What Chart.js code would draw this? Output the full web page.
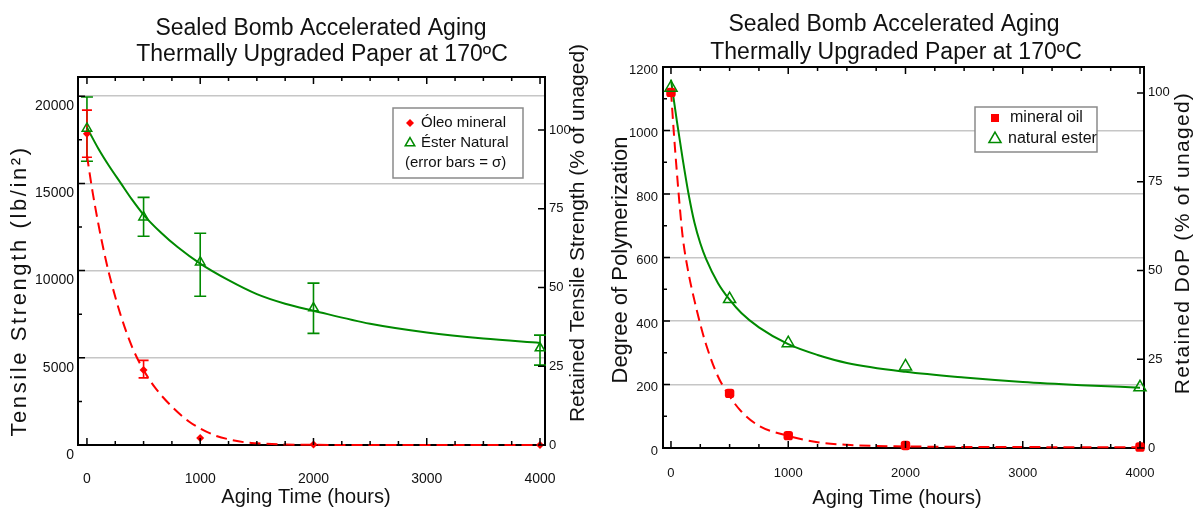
<!DOCTYPE html>
<html><head><meta charset="utf-8">
<script src="https://cdn.jsdelivr.net/npm/chart.js@4.4.1/dist/chart.umd.min.js"></script>
<style>
html,body{margin:0;padding:0;background:#fff;}
#wrap{position:relative;width:1194px;height:511px;overflow:hidden;background:#fff;}
canvas{position:absolute;top:0;}
#c1{left:0;} #c2{left:597px;}
</style></head><body>
<div id="wrap"><canvas id="c1" width="597" height="511"></canvas><canvas id="c2" width="597" height="511"></canvas></div>
<script>
// ================= DATA =================
const titleLine1 = 'Sealed Bomb Accelerated Aging';
const titleLine2 = 'Thermally Upgraded Paper at 170ºC';
const xAxisTitle = 'Aging Time (hours)';
const agingHours = [0, 500, 1000, 2000, 4000];
const hourTicks = [0, 1000, 2000, 3000, 4000];

// Left chart: tensile strength
const tensileTitle = 'Tensile Strength (lb/in²)';
const tensileRetainedTitle = 'Retained Tensile Strength (% of unaged)';
const tensileLegend = ['Óleo mineral', 'Éster Natural', '(error bars = σ)'];
const tensileMineral = [17850, 4300, 400, 30, 0];
const tensileEster = [18150, 13060, 10480, 7850, 5560];
const tensileMineralLow = [16500, 3850, null, null, null];
const tensileMineralHigh = [19200, 4850, null, null, null];
const tensileEsterLow = [16270, 11970, 8530, 6400, 4580];
const tensileEsterHigh = [19950, 14200, 12140, 9280, 6300];
const tensileMineralFitHours = [0, 50, 100, 150, 200, 300, 400, 500, 600, 750, 900, 1000, 1150, 1250, 1400, 1500, 1750, 2000, 2500, 3000, 4000];
const tensileMineralFit = [16600, 14500, 12700, 11100, 9700, 7400, 5600, 4300, 3300, 2200, 1350, 950, 500, 330, 150, 100, 30, 10, 0, 0, 0];
const tensileEsterFitHours = [0, 100, 200, 300, 400, 500, 650, 800, 1000, 1250, 1500, 1750, 2000, 2500, 3000, 3500, 4000];
const tensileEsterFit = [18200, 17000, 15950, 15000, 14050, 13200, 12200, 11350, 10400, 9450, 8650, 8100, 7700, 6950, 6450, 6100, 5850];
const tensileTicks = [0, 5000, 10000, 15000, 20000];
const retainedTensileTicks = [0, 25, 50, 75, 100];

// Right chart: degree of polymerization
const dopTitle = 'Degree of Polymerization';
const dopRetainedTitle = 'Retained DoP (% of unaged)';
const dopLegend = ['mineral oil', 'natural ester'];
const dopMineral = [1120, 172, 39, 8, 3];
const dopEster = [1135, 469, 330, 257, 191];
const dopMineralFitHours = [0, 25, 50, 75, 100, 150, 200, 250, 300, 400, 500, 600, 750, 1000, 1250, 1500, 2000, 3000, 4000];
const dopMineralFit = [1125, 990, 870, 760, 665, 550, 465, 390, 325, 226, 163, 115, 70, 38, 18, 10, 5, 3, 2];
const dopEsterFitHours = [0, 50, 100, 150, 200, 250, 300, 400, 500, 600, 750, 1000, 1250, 1500, 2000, 2500, 3000, 3500, 4000];
const dopEsterFit = [1160, 1030, 910, 800, 710, 645, 595, 520, 467, 425, 380, 327, 293, 268, 240, 222, 208, 198, 190];
const dopTicks = [0, 200, 400, 600, 800, 1000, 1200];
const retainedDopTicks = [0, 25, 50, 75, 100];

// ================= STYLE / HELPERS =================
const FONT = '"Liberation Sans", Arial, Helvetica, sans-serif';
const RED = '#ff0000';
const GREEN = '#008a00';
const GRID = '#c6c6c6';
const INK = '#111111';

function pts(xs, ys) { return xs.map((x, i) => ({x: x, y: ys[i]})).filter(p => p.y !== null); }
function setTicks(values) { return s => { s.ticks = values.map(v => ({value: v})); }; }
function gridColor(skip) { return c => (c.tick && skip.includes(c.tick.value)) ? 'rgba(0,0,0,0)' : GRID; }
const plainLabel = v => String(v);

function shape(ctx, style, x, y, r) {
  ctx.beginPath();
  if (style === 'triangle') {
    let a = 0;
    ctx.moveTo(x + Math.sin(a) * r, y - Math.cos(a) * r);
    a += 2 * Math.PI / 3; ctx.lineTo(x + Math.sin(a) * r, y - Math.cos(a) * r);
    a += 2 * Math.PI / 3; ctx.lineTo(x + Math.sin(a) * r, y - Math.cos(a) * r);
    ctx.closePath();
  } else if (style === 'diamond') {
    ctx.moveTo(x, y - r); ctx.lineTo(x + r, y); ctx.lineTo(x, y + r); ctx.lineTo(x - r, y); ctx.closePath();
  } else {
    ctx.rect(x - r, y - r, 2 * r, 2 * r);
  }
}

const decor = {
  id: 'decor',
  beforeDatasetsDraw(chart, args, o) {
    const ctx = chart.ctx, xs = chart.scales.x, ys = chart.scales.y;
    ctx.save();
    (o.errorBars || []).forEach(eb => {
      ctx.strokeStyle = eb.color; ctx.lineWidth = 1.6;
      eb.xs.forEach((h, i) => {
        if (eb.low[i] === null) return;
        const px = xs.getPixelForValue(h), p1 = ys.getPixelForValue(eb.low[i]), p2 = ys.getPixelForValue(eb.high[i]);
        ctx.beginPath();
        ctx.moveTo(px, p1); ctx.lineTo(px, p2);
        ctx.moveTo(px - eb.cap, p1); ctx.lineTo(px + eb.cap, p1);
        ctx.moveTo(px - eb.cap, p2); ctx.lineTo(px + eb.cap, p2);
        ctx.stroke();
      });
    });
    ctx.restore();
  },
  afterDraw(chart, args, o) {
    const ctx = chart.ctx, ca = chart.chartArea;
    ctx.save();
    ctx.strokeStyle = '#000'; ctx.lineWidth = 1.5;
    const tk = o.ticks;
    const xs = chart.scales.x;
    ctx.beginPath();
    for (let v = Math.ceil(xs.min / tk.x.step) * tk.x.step; v <= xs.max; v += tk.x.step) {
      const px = xs.getPixelForValue(v), len = (v % tk.x.major === 0) ? 7 : 4;
      ctx.moveTo(px, ca.bottom); ctx.lineTo(px, ca.bottom - len);
      ctx.moveTo(px, ca.top); ctx.lineTo(px, ca.top + len);
    }
    const ys = chart.scales.y;
    for (let v = 0; v <= ys.max; v += tk.y.step) {
      const py = ys.getPixelForValue(v), len = (v % tk.y.major === 0) ? 7 : 4;
      ctx.moveTo(ca.left, py); ctx.lineTo(ca.left + len, py);
    }
    const y2 = chart.scales.y2;
    for (let v = 0; v <= y2.max; v += tk.y2.step) {
      const py = y2.getPixelForValue(v);
      ctx.moveTo(ca.right, py); ctx.lineTo(ca.right - 7, py);
    }
    ctx.stroke();
    const lg = o.legend;
    ctx.fillStyle = '#fff'; ctx.strokeStyle = '#8a8a8a'; ctx.lineWidth = 1.5;
    ctx.fillRect(lg.box[0], lg.box[1], lg.box[2], lg.box[3]);
    ctx.strokeRect(lg.box[0], lg.box[1], lg.box[2], lg.box[3]);
    lg.items.forEach(it => {
      if (it.marker) {
        shape(ctx, it.marker, it.mx, it.y, it.r);
        if (it.fill) { ctx.fillStyle = it.color; ctx.fill(); }
        else { ctx.strokeStyle = it.color; ctx.lineWidth = 1.5; ctx.stroke(); }
      }
      ctx.fillStyle = INK; ctx.font = lg.size + 'px ' + FONT;
      ctx.textAlign = 'left'; ctx.textBaseline = 'middle';
      ctx.fillText(it.text, it.tx, it.y);
    });
    ctx.fillStyle = INK; ctx.textAlign = 'center'; ctx.textBaseline = 'middle';
    (o.titles || []).forEach(t => {
      ctx.font = t.size + 'px ' + FONT;
      ctx.fillText(t.text, t.x, t.y);
    });
    (o.vtitles || []).forEach(t => {
      ctx.save();
      ctx.translate(t.x, t.y); ctx.rotate(-Math.PI / 2);
      ctx.font = t.size + 'px ' + FONT;
      if ('letterSpacing' in ctx) ctx.letterSpacing = (t.spacing || 0) + 'px';
      ctx.fillText(t.text, 0, 0);
      ctx.restore();
    });
    ctx.restore();
  }
};

function axisFont(size) { return {family: FONT, size: size}; }

function buildChart(id, c) {
  return new Chart(document.getElementById(id), {
    type: 'scatter',
    data: { datasets: [
      {label: c.legendEster, data: pts(agingHours, c.ester), showLine: false, pointStyle: 'triangle', pointRadius: c.triR,
       pointBorderWidth: 1.5, pointBorderColor: GREEN, pointBackgroundColor: 'rgba(0,0,0,0)', clip: false, order: 0},
      {label: c.legendMineral, data: pts(agingHours, c.mineral), showLine: false, pointStyle: c.minStyle, pointRadius: c.minR,
       pointBorderWidth: 0, pointBackgroundColor: RED, pointBorderColor: RED, clip: false, order: 1},
      {label: 'fit ester', data: pts(c.esterFitH, c.esterFit), showLine: true, borderColor: GREEN, borderWidth: 2,
       pointRadius: 0, cubicInterpolationMode: 'monotone', clip: false, order: 2},
      {label: 'fit mineral', data: pts(c.minFitH, c.minFit), showLine: true, borderColor: RED, borderWidth: 2,
       borderDash: [11, 6], pointRadius: 0, cubicInterpolationMode: 'monotone', clip: false, order: 3}
    ]},
    plugins: [decor],
    options: {
      responsive: false, animation: false, events: [],
      layout: {padding: {top: c.top, left: 0, right: 0, bottom: 0}},
      plugins: {legend: {display: false}, tooltip: {enabled: false}, title: {display: false}, decor: c.decor},
      scales: {
        x: {type: 'linear', position: 'bottom', min: c.xmin, max: c.xmax, afterBuildTicks: setTicks(hourTicks),
            afterFit: s => { s.height = c.xh; },
            grid: {display: false, drawTicks: false}, border: {display: true, color: '#000', width: 2},
            ticks: {font: axisFont(c.xFont), color: INK, padding: c.xPad, maxRotation: 0, autoSkip: false, callback: plainLabel}},
        x2: {type: 'linear', position: 'top', min: c.xmin, max: c.xmax, afterFit: s => { s.height = 0; },
             grid: {display: false, drawTicks: false}, border: {display: true, color: '#000', width: 2}, ticks: {display: false}},
        y: {type: 'linear', position: 'left', min: 0, max: c.ymax, afterBuildTicks: setTicks(c.yTicks),
            afterFit: s => { s.width = c.yw; },
            grid: {color: gridColor(c.gridSkip), lineWidth: 1.5, drawTicks: false},
            border: {display: true, color: '#000', width: 2},
            ticks: {font: axisFont(c.yFont), color: INK, padding: c.yPad, labelOffset: c.yOff, callback: plainLabel}},
        y2: {type: 'linear', position: 'right', min: 0, max: c.y2max, afterBuildTicks: setTicks(c.y2Ticks),
             afterFit: s => { s.width = c.y2w; },
             grid: {display: false, drawTicks: false}, border: {display: true, color: '#000', width: 2},
             ticks: {font: axisFont(13), color: INK, padding: c.y2Pad, callback: plainLabel}}
      }
    }
  });
}

buildChart('c1', {
  ester: tensileEster, mineral: tensileMineral, esterFitH: tensileEsterFitHours, esterFit: tensileEsterFit,
  minFitH: tensileMineralFitHours, minFit: tensileMineralFit, legendEster: tensileLegend[1], legendMineral: tensileLegend[0],
  triR: 5.5, minStyle: 'rectRot', minR: 4,
  top: 77, xmin: -79, xmax: 4044, xh: 66, xFont: 14, xPad: 26,
  ymax: 21100, yTicks: tensileTicks, yw: 78, yFont: 14, yPad: 4, yOff: 10, gridSkip: [0],
  y2max: 116.8, y2Ticks: retainedTensileTicks, y2w: 52, y2Pad: 4,
  decor: {
    ticks: {x: {step: 250, major: 1000}, y: {step: 2500, major: 5000}, y2: {step: 25}},
    errorBars: [
      {xs: agingHours, low: tensileEsterLow, high: tensileEsterHigh, color: GREEN, cap: 6},
      {xs: agingHours, low: tensileMineralLow, high: tensileMineralHigh, color: RED, cap: 5}
    ],
    legend: {box: [393, 108, 130, 70], size: 15, items: [
      {text: tensileLegend[0], marker: 'diamond', fill: true, color: RED, r: 4, mx: 410, tx: 421, y: 123},
      {text: tensileLegend[1], marker: 'triangle', fill: false, color: GREEN, r: 5.5, mx: 410, tx: 421, y: 143},
      {text: tensileLegend[2], tx: 405, y: 163}
    ]},
    titles: [
      {text: titleLine1, x: 321, y: 28.5, size: 23},
      {text: titleLine2, x: 322, y: 55, size: 23},
      {text: xAxisTitle, x: 306, y: 497, size: 20}
    ],
    vtitles: [
      {text: tensileTitle, x: 20, y: 291, size: 22, spacing: 2.6},
      {text: tensileRetainedTitle, x: 578, y: 233, size: 21, spacing: 0}
    ]
  }
});

buildChart('c2', {
  ester: dopEster, mineral: dopMineral, esterFitH: dopEsterFitHours, esterFit: dopEsterFit,
  minFitH: dopMineralFitHours, minFit: dopMineralFit, legendEster: dopLegend[1], legendMineral: dopLegend[0],
  triR: 7, minStyle: 'rectRounded', minR: 5.5,
  top: 67, xmin: -68, xmax: 4034, xh: 63, xFont: 13, xPad: 18,
  ymax: 1200, yTicks: dopTicks, yw: 66, yFont: 13, yPad: 5, yOff: 3, gridSkip: [0, 1200],
  y2max: 107.3, y2Ticks: retainedDopTicks, y2w: 50, y2Pad: 4,
  decor: {
    ticks: {x: {step: 250, major: 1000}, y: {step: 100, major: 200}, y2: {step: 25}},
    errorBars: [],
    legend: {box: [378, 107, 122, 45], size: 16, items: [
      {text: dopLegend[0], marker: 'square', fill: true, color: RED, r: 4, mx: 398, tx: 413, y: 118},
      {text: dopLegend[1], marker: 'triangle', fill: false, color: GREEN, r: 7, mx: 398, tx: 411, y: 139}
    ]},
    titles: [
      {text: titleLine1, x: 297, y: 25, size: 23},
      {text: titleLine2, x: 299, y: 53, size: 23},
      {text: xAxisTitle, x: 300, y: 498, size: 20}
    ],
    vtitles: [
      {text: dopTitle, x: 24, y: 260, size: 22, spacing: 0},
      {text: dopRetainedTitle, x: 586, y: 243, size: 21, spacing: 1.3}
    ]
  }
});
</script>
</body></html>
